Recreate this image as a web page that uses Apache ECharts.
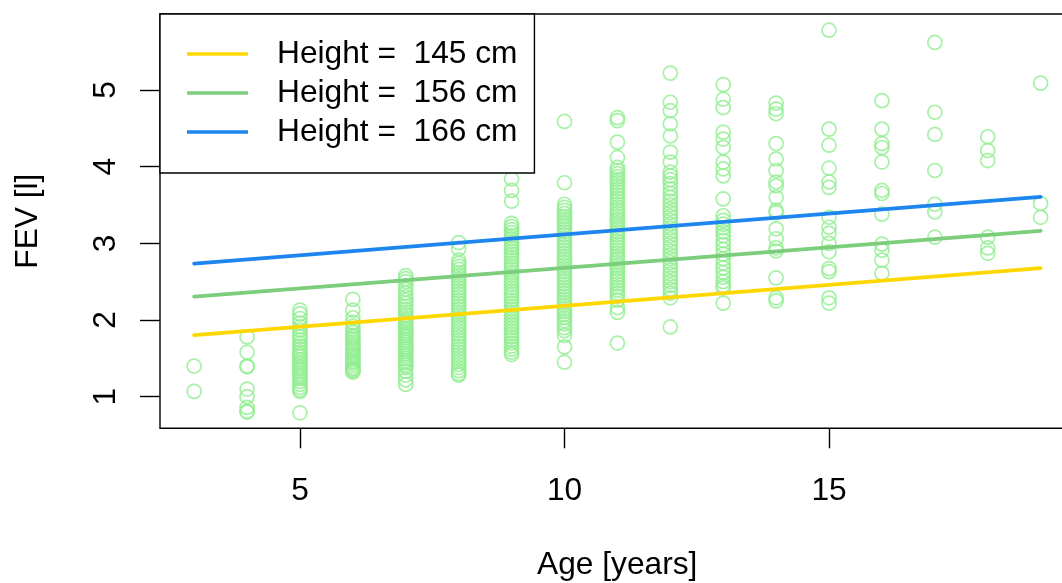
<!DOCTYPE html>
<html>
<head>
<meta charset="utf-8">
<script src="https://cdn.jsdelivr.net/npm/echarts@6/dist/echarts.min.js"></script>
<style>
html,body{margin:0;padding:0;background:#fff;}
#chart{width:1062px;height:583px;}
</style>
</head>
<body>
<div id="chart"></div>
<script>
// ---- data ----
const ages = [3,4,5,6,7,8,9,10,11,12,13,14,15,16,17,18,19];
const fev3  = [1.40, 1.07];
const fev4  = [1.78, 1.58, 1.40, 1.39, 1.10, 1.00, 0.86, 0.81, 0.80];
const fev5  = [2.13, 2.08, 2.02, 1.96, 1.91, 1.87, 1.82, 1.78, 1.74, 1.70, 1.66, 1.62, 1.58, 1.55, 1.52, 1.48, 1.45, 1.42, 1.39, 1.36, 1.33, 1.30, 1.27, 1.24, 1.20, 1.16, 1.12, 1.09, 1.07, 0.79];
const fev6  = [2.27, 2.13, 2.03, 1.97, 1.92, 1.88, 1.84, 1.80, 1.77, 1.74, 1.71, 1.68, 1.65, 1.62, 1.60, 1.57, 1.54, 1.52, 1.49, 1.46, 1.44, 1.41, 1.38, 1.36, 1.34, 1.32];
const fev7  = [2.58, 2.54, 2.50, 2.45, 2.40, 2.35, 2.30, 2.26, 2.22, 2.18, 2.14, 2.10, 2.06, 2.02, 1.99, 1.96, 1.92, 1.89, 1.86, 1.83, 1.80, 1.77, 1.74, 1.71, 1.68, 1.65, 1.62, 1.59, 1.56, 1.53, 1.50, 1.47, 1.44, 1.41, 1.38, 1.33, 1.28, 1.22, 1.16];
const fev8  = [3.01, 2.93, 2.78, 2.74, 2.70, 2.66, 2.62, 2.58, 2.54, 2.50, 2.46, 2.42, 2.38, 2.34, 2.30, 2.26, 2.22, 2.18, 2.14, 2.10, 2.06, 2.02, 1.98, 1.94, 1.90, 1.86, 1.82, 1.78, 1.74, 1.70, 1.66, 1.62, 1.58, 1.54, 1.50, 1.46, 1.42, 1.38, 1.34, 1.30, 1.28];
const fev9  = [3.84, 3.69, 3.55, 3.26, 3.22, 3.18, 3.14, 3.10, 3.06, 3.02, 2.98, 2.94, 2.90, 2.86, 2.82, 2.78, 2.74, 2.70, 2.66, 2.62, 2.58, 2.54, 2.50, 2.46, 2.42, 2.38, 2.34, 2.30, 2.26, 2.22, 2.18, 2.14, 2.10, 2.06, 2.02, 1.98, 1.94, 1.90, 1.86, 1.82, 1.78, 1.74, 1.70, 1.66, 1.62, 1.58, 1.55];
const fev10 = [4.59, 3.79, 3.51, 3.47, 3.43, 3.39, 3.35, 3.31, 3.27, 3.23, 3.19, 3.15, 3.11, 3.07, 3.03, 2.99, 2.95, 2.91, 2.87, 2.83, 2.79, 2.75, 2.71, 2.67, 2.63, 2.59, 2.55, 2.51, 2.47, 2.43, 2.39, 2.35, 2.31, 2.27, 2.23, 2.19, 2.15, 2.11, 2.07, 2.03, 1.99, 1.95, 1.90, 1.86, 1.80, 1.65, 1.45];
const fev11 = [4.64, 4.60, 4.32, 4.12, 3.99, 3.95, 3.91, 3.87, 3.83, 3.79, 3.75, 3.71, 3.67, 3.63, 3.59, 3.55, 3.51, 3.47, 3.43, 3.39, 3.35, 3.31, 3.27, 3.23, 3.19, 3.15, 3.11, 3.07, 3.03, 2.99, 2.95, 2.91, 2.87, 2.83, 2.79, 2.75, 2.71, 2.67, 2.63, 2.59, 2.55, 2.51, 2.47, 2.43, 2.39, 2.35, 2.31, 2.26, 2.16, 2.10, 1.70];
const fev12 = [5.22, 4.84, 4.73, 4.56, 4.40, 4.19, 4.06, 3.93, 3.88, 3.83, 3.78, 3.71, 3.65, 3.60, 3.55, 3.50, 3.45, 3.40, 3.35, 3.30, 3.25, 3.20, 3.15, 3.10, 3.05, 3.00, 2.95, 2.90, 2.85, 2.80, 2.75, 2.70, 2.65, 2.60, 2.55, 2.50, 2.45, 2.40, 2.35, 2.29, 1.91];
const fev13 = [5.07, 4.88, 4.77, 4.45, 4.36, 4.25, 4.06, 3.97, 3.88, 3.58, 3.36, 3.30, 3.25, 3.20, 3.15, 3.10, 3.04, 2.98, 2.92, 2.86, 2.80, 2.74, 2.68, 2.62, 2.56, 2.50, 2.45, 2.42, 2.22];
const fev14 = [4.83, 4.75, 4.69, 4.30, 4.10, 3.95, 3.80, 3.75, 3.60, 3.43, 3.40, 3.19, 3.06, 2.94, 2.90, 2.55, 2.29, 2.25];
const fev15 = [5.78, 4.49, 4.28, 3.98, 3.80, 3.73, 3.34, 3.21, 3.13, 3.00, 2.89, 2.67, 2.63, 2.29, 2.22];
const fev16 = [4.86, 4.49, 4.30, 4.25, 4.06, 3.69, 3.65, 3.38, 2.99, 2.91, 2.78, 2.61];
const fev17 = [5.62, 4.71, 4.42, 3.95, 3.51, 3.41, 3.08];
const fev18 = [4.39, 4.21, 4.08, 3.08, 2.94, 2.87];
const fev19 = [5.09, 3.52, 3.34];
const fevByAge = [fev3, fev4, fev5, fev6, fev7, fev8, fev9, fev10, fev11, fev12, fev13, fev14, fev15, fev16, fev17, fev18, fev19];

const lineHeights = ['145', '156', '166'];
const lineAges = [3, 19];
const lineFev145 = [1.804, 2.678];
const lineFev156 = [2.304, 3.164];
const lineFev166 = [2.735, 3.607];
const xTicks = [5, 10, 15];
const yTicks = [1, 2, 3, 4, 5];

// ---- build chart ----
const FONT = "'Liberation Sans', Arial, sans-serif";
const FS = 31.7;
const points = [];
ages.forEach((a, i) => fevByAge[i].forEach(v => points.push([a, v])));
const mkLine = arr => lineAges.map((a, i) => [a, arr[i]]);
const lineColors = ['#FFD700', '#7CCD7C', '#1C86EE'];
const lineData = [mkLine(lineFev145), mkLine(lineFev156), mkLine(lineFev166)];
const names = lineHeights.map(h => 'Height =  ' + h + ' cm');

const chart = echarts.init(document.getElementById('chart'), null, {renderer: 'canvas'});
chart.setOption({
  animation: false,
  backgroundColor: '#fff',
  grid: {left: 160, top: 14, width: 914.5, height: 414.3, outerBoundsMode: 'none', containLabel: false,
         show: true, borderColor: '#000', borderWidth: 1.4, backgroundColor: 'transparent'},
  xAxis: {
    type: 'value', min: 2.354, max: 19.64,
    name: 'Age [years]', nameLocation: 'middle', nameGap: 121,
    nameTextStyle: {fontFamily: FONT, fontSize: FS, color: '#000', lineHeight: 32},
    axisLine: {show: false},
    axisTick: {show: true, length: 20, inside: false, customValues: xTicks, lineStyle: {color: '#000', width: 1.4}},
    axisLabel: {customValues: xTicks, margin: 47, fontFamily: FONT, fontSize: FS, color: '#000', lineHeight: 32},
    splitLine: {show: false}
  },
  yAxis: {
    type: 'value', min: 0.588, max: 5.991,
    name: 'FEV [l]', nameLocation: 'middle', nameGap: 116, nameRotate: 90,
    nameTextStyle: {fontFamily: FONT, fontSize: FS, color: '#000', lineHeight: 32},
    axisLine: {show: false},
    axisTick: {show: true, length: 20, inside: false, customValues: yTicks, lineStyle: {color: '#000', width: 1.4}},
    axisLabel: {customValues: yTicks, rotate: 90, margin: 38, fontFamily: FONT, fontSize: FS, color: '#000', lineHeight: 32},
    splitLine: {show: false}
  },
  legend: {
    left: 160, top: 14, orient: 'vertical',
    padding: [24, 17, 25, 27],
    itemWidth: 61, itemHeight: 4, itemGap: 7,
    icon: 'path://M0,0L100,0L100,6L0,6Z',
    backgroundColor: '#fff', borderColor: '#000', borderWidth: 1.4, borderRadius: 0,
    textStyle: {fontFamily: FONT, fontSize: FS, color: '#000', lineHeight: 32, padding: [0, 0, 0, 24]},
    data: names
  },
  series: [
    {
      type: 'scatter', name: 'points', data: points,
      symbol: 'circle', symbolSize: 14,
      itemStyle: {color: 'rgba(0,0,0,0)', borderColor: '#90EE90', borderWidth: 1.7},
      emphasis: {disabled: true}
    }
  ].concat(names.map((n, i) => ({
    type: 'line', name: n, data: lineData[i],
    symbol: 'none', showSymbol: false,
    lineStyle: {color: lineColors[i], width: 3.8, cap: 'round'},
    itemStyle: {color: lineColors[i]},
    emphasis: {disabled: true}
  })))
});
</script>
</body>
</html>
